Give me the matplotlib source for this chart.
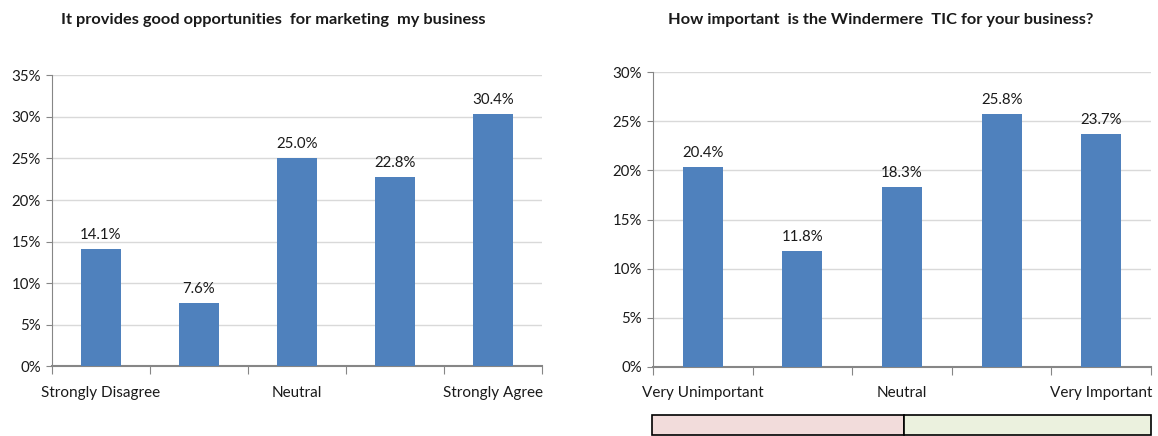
import matplotlib
matplotlib.use("Agg")
import matplotlib.pyplot as plt
from matplotlib.patches import Rectangle
from matplotlib.ticker import FixedLocator, PercentFormatter

plt.rcParams['font.family'] = ['Lato', 'DejaVu Sans']

# survey answers, share of respondents (%)
marketing_title = "It provides good opportunities  for marketing  my business"
marketing_values = [14.1, 7.6, 25.0, 22.8, 30.4]
marketing_labels = ["Strongly Disagree", "", "Neutral", "", "Strongly Agree"]

tic_title = "How important  is the Windermere  TIC for your business?"
tic_values = [20.4, 11.8, 18.3, 25.8, 23.7]
tic_labels = ["Very Unimportant", "", "Neutral", "", "Very Important"]

BAR_COLOR = "#4F81BD"
GRID_COLOR = "#D9D9D9"
AXIS_COLOR = "#868686"
TEXT_COLOR = "#1a1a1a"
W, H = 1158, 436


def px_axes(fig, x0, y_top, x1, y_bottom):
    return fig.add_axes([x0 / W, 1 - y_bottom / H, (x1 - x0) / W, (y_bottom - y_top) / H])


def bar_panel(ax, values, labels, ymax):
    n = len(values)
    xs = list(range(n))
    ax.bar(xs, values, width=0.4, color=BAR_COLOR, zorder=3)
    for x, v in zip(xs, values):
        ax.annotate(f"{v:.1f}%", (x, v), xytext=(0, 5), textcoords="offset points",
                    ha="center", va="bottom", fontsize=10.8, color=TEXT_COLOR)
    ax.set_xlim(-0.5, n - 0.5)
    ax.set_ylim(0, ymax)
    ax.set_yticks(range(0, ymax + 1, 5))
    ax.yaxis.set_major_formatter(PercentFormatter(decimals=0))
    ax.yaxis.grid(True, color=GRID_COLOR, linewidth=1, zorder=0)
    # ticks sit between categories, labels sit under the bars
    ax.xaxis.set_major_locator(FixedLocator([i - 0.5 for i in range(n + 1)]))
    ax.xaxis.set_minor_locator(FixedLocator(xs))
    ax.set_xticklabels([""] * (n + 1))
    ax.set_xticklabels(labels, minor=True)
    ax.tick_params(axis="x", which="major", length=6, color=AXIS_COLOR, direction="out")
    ax.tick_params(axis="x", which="minor", length=0, pad=14, labelsize=11,
                   labelcolor=TEXT_COLOR)
    ax.tick_params(axis="y", length=4, color=AXIS_COLOR, labelsize=10.8, pad=4,
                   labelcolor=TEXT_COLOR)
    for side in ("top", "right"):
        ax.spines[side].set_visible(False)
    ax.spines["left"].set_color(AXIS_COLOR)
    ax.spines["bottom"].set_color(AXIS_COLOR)
    ax.spines["bottom"].set_linewidth(1.5)


fig = plt.figure(figsize=(W / 100, H / 100), dpi=100)

ax1 = px_axes(fig, 52, 75.3, 542, 366.3)
bar_panel(ax1, marketing_values, marketing_labels, 35)
fig.text(273 / W, 1 - 20 / H, marketing_title, ha="center", va="center",
         fontsize=11.8, fontweight="bold", color=TEXT_COLOR)

ax2 = px_axes(fig, 653, 72.3, 1151, 366.7)
bar_panel(ax2, tic_values, tic_labels, 30)
fig.text(881 / W, 1 - 20 / H, tic_title, ha="center", va="center",
         fontsize=11.8, fontweight="bold", color=TEXT_COLOR)

# negative / positive band under the importance scale
band = px_axes(fig, 652, 415, 1151, 435)
band_colors = ["#F2DCDB", "#EBF1DE"]
band.set_xlim(0, 1)
band.set_ylim(0, 1)
band.axis("off")
split = 0.505
band.add_patch(Rectangle((0, 0), split, 1, facecolor=band_colors[0],
                         edgecolor="black", linewidth=1.2, clip_on=False))
band.add_patch(Rectangle((split, 0), 1 - split, 1, facecolor=band_colors[1],
                         edgecolor="black", linewidth=1.2, clip_on=False))

fig.savefig("out.png", dpi=100)
